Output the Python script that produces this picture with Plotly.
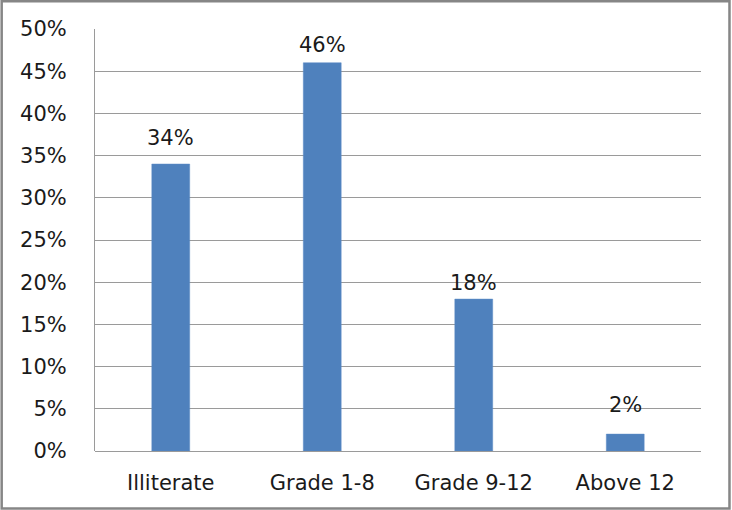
import plotly.graph_objects as go

categories = ["Illiterate", "Grade 1-8", "Grade 9-12", "Above 12"]
shares = [34, 46, 18, 2]
y_ticks = [0, 5, 10, 15, 20, 25, 30, 35, 40, 45, 50]
y_tick_text = [f"{v}%" for v in y_ticks]

FONT = dict(family="DejaVu Sans", size=21, color="#1a1a1a")
GRID = "#9a9a9a"

# vertical offset (px) of each value label's centre above its bar
label_lift = [26, 17.5, 16, 29.5]

fig = go.Figure(
    go.Bar(
        x=categories,
        y=shares,
        width=0.25,
        marker=dict(color="#4F81BD", line=dict(color="#5a8bc6", width=0.5)),
        hoverinfo="skip",
    )
)

for cat, val, lift in zip(categories, shares, label_lift):
    fig.add_annotation(
        x=cat, y=val, text=f"{val}%", showarrow=False,
        yanchor="middle", yshift=lift, font=FONT,
    )

# outer chart frame
fig.add_shape(
    type="rect", xref="paper", yref="paper",
    x0=-0.154, x1=1.047, y0=-0.136, y1=1.066,
    line=dict(color="#868686", width=2.5), layer="above",
)

fig.update_layout(
    width=732, height=510,
    margin=dict(l=95, r=31, t=29, b=59),
    paper_bgcolor="white", plot_bgcolor="white",
    font=FONT, showlegend=False,
    bargap=0.75,
)
fig.update_xaxes(
    showgrid=False, showline=False, zeroline=False,
    ticks="", ticklabelstandoff=17, tickfont=FONT,
)
fig.update_yaxes(
    range=[0, 50], tickvals=y_ticks, ticktext=y_tick_text,
    showgrid=True, gridcolor=GRID, gridwidth=1,
    zeroline=True, zerolinecolor=GRID, zerolinewidth=1,
    showline=True, linecolor=GRID, linewidth=1,
    ticks="", ticklabelstandoff=23, tickfont=FONT,
)

fig.write_html("out.html")
